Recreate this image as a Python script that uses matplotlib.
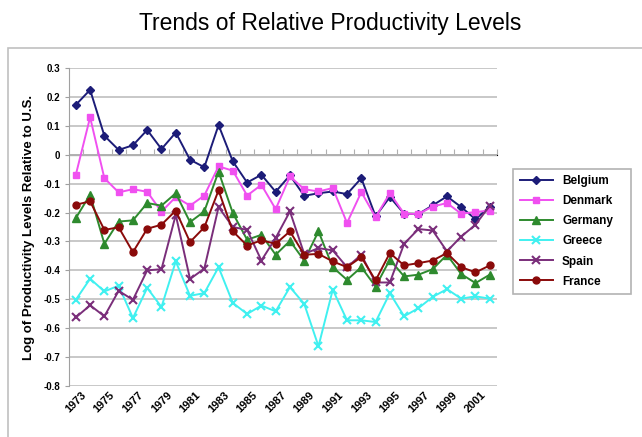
import matplotlib
matplotlib.use('Agg')
import matplotlib.pyplot as plt
from matplotlib.patches import Rectangle

years = list(range(1973, 2003))
belgium = [0.173, 0.225, 0.066, 0.017, 0.033, 0.086, 0.020, 0.077, -0.017, -0.043,
           0.103, -0.023, -0.096, -0.069, -0.128, -0.071, -0.142, -0.133, -0.127, -0.136,
           -0.081, -0.213, -0.146, -0.204, -0.205, -0.175, -0.144, -0.181, -0.223, -0.179]
denmark = [-0.069, 0.130, -0.081, -0.130, -0.119, -0.128, -0.197, -0.146, -0.176, -0.141,
           -0.040, -0.055, -0.141, -0.104, -0.188, -0.075, -0.119, -0.127, -0.115, -0.236,
           -0.129, -0.216, -0.133, -0.204, -0.205, -0.179, -0.167, -0.204, -0.198, -0.193]
germany = [-0.219, -0.138, -0.308, -0.231, -0.227, -0.167, -0.176, -0.133, -0.233, -0.196,
           -0.058, -0.202, -0.294, -0.277, -0.346, -0.298, -0.366, -0.265, -0.389, -0.433,
           -0.389, -0.456, -0.363, -0.421, -0.415, -0.396, -0.346, -0.413, -0.444, -0.415]
greece = [-0.502, -0.429, -0.473, -0.453, -0.565, -0.461, -0.527, -0.369, -0.488, -0.479,
          -0.389, -0.513, -0.551, -0.522, -0.542, -0.458, -0.516, -0.663, -0.467, -0.573,
          -0.573, -0.579, -0.479, -0.559, -0.531, -0.492, -0.465, -0.498, -0.490, -0.498]
spain = [-0.563, -0.521, -0.559, -0.471, -0.502, -0.400, -0.396, -0.208, -0.430, -0.394,
         -0.181, -0.250, -0.260, -0.366, -0.288, -0.196, -0.343, -0.323, -0.331, -0.389,
         -0.346, -0.442, -0.442, -0.308, -0.257, -0.262, -0.334, -0.283, -0.242, -0.176]
france = [-0.173, -0.161, -0.260, -0.251, -0.337, -0.256, -0.242, -0.193, -0.302, -0.251,
          -0.123, -0.265, -0.314, -0.296, -0.308, -0.265, -0.346, -0.343, -0.369, -0.389,
          -0.354, -0.435, -0.340, -0.383, -0.375, -0.366, -0.340, -0.389, -0.407, -0.383]

series = [
    ('Belgium', belgium, '#1c1c78', 'D', 4),
    ('Denmark', denmark, '#f050f0', 's', 5),
    ('Germany', germany, '#2e8a2e', '^', 6),
    ('Greece', greece, '#40f0f0', 'x', 6),
    ('Spain', spain, '#7a2e7a', 'x', 6),
    ('France', france, '#8a0a0a', 'o', 5),
]

plt.rcParams['font.family'] = ['Liberation Sans', 'DejaVu Sans']

fig = plt.figure(figsize=(6.42, 4.37), dpi=100)
ax = fig.add_axes([0.107, 0.117, 0.667, 0.727])

x = list(range(len(years)))
for name, vals, col, mk, ms in series:
    mew = 1.5 if mk == 'x' else 1
    ax.plot(x, vals, color=col, marker=mk, markersize=ms, lw=1.4, label=name,
            markeredgewidth=mew, markeredgecolor=col)

ax.set_xlim(-0.5, len(years) - 0.5)
ax.set_ylim(-0.8, 0.3)
yt = [round(-0.8 + 0.1 * i, 1) for i in range(12)]
ax.set_yticks(yt)
ax.set_yticklabels(['0' if v == 0 else ('%.1f' % v) for v in yt], fontsize=7, fontweight='bold')
ax.grid(axis='y', color='#c4c4c4', lw=1.3)
ax.set_axisbelow(True)
for s in ['top', 'right', 'bottom']:
    ax.spines[s].set_visible(False)
ax.spines['left'].set_color('#a0a0a0')
ax.tick_params(axis='y', length=3, color='#a0a0a0', pad=3)

# year labels at the bottom
ax.set_xticks(x[::2])
ax.set_xticklabels([str(y) for y in years[::2]], rotation=45, fontsize=8,
                   fontweight='bold', ha='center', va='top')
ax.tick_params(axis='x', length=0, pad=3)

# zero line with category tick marks
ax.axhline(0, color='#b0b0b0', lw=1.3, zorder=1)
sec = ax.secondary_xaxis(0.8 / 1.1)
sec.set_xticks([i + 0.5 for i in x])
sec.set_xticklabels([])
sec.tick_params(length=4, color='#b0b0b0', direction='out')
sec.spines['bottom'].set_visible(False)

ax.set_ylabel('Log of Productivity Levels Relative to U.S.', fontsize=9.5,
              fontweight='bold', labelpad=6)

fig.suptitle('Trends of Relative Productivity Levels', fontsize=16.5, y=0.972, x=0.515)

leg = fig.legend(loc='upper left', bbox_to_anchor=(0.79, 0.336, 0.2025, 0.291), mode='expand',
                 prop={'weight': 'bold', 'size': 8.5},
                 frameon=True, fancybox=False, edgecolor='#a0a0a0', handlelength=2.8,
                 labelspacing=0.68, borderpad=0.55)
leg.get_frame().set_linewidth(1.2)

fig.patches.append(Rectangle((8 / 642, -0.05), 1.2, 0.94, transform=fig.transFigure,
                             fill=False, edgecolor='#c0c0c0', lw=1.2))

fig.savefig('out.png', dpi=100)
